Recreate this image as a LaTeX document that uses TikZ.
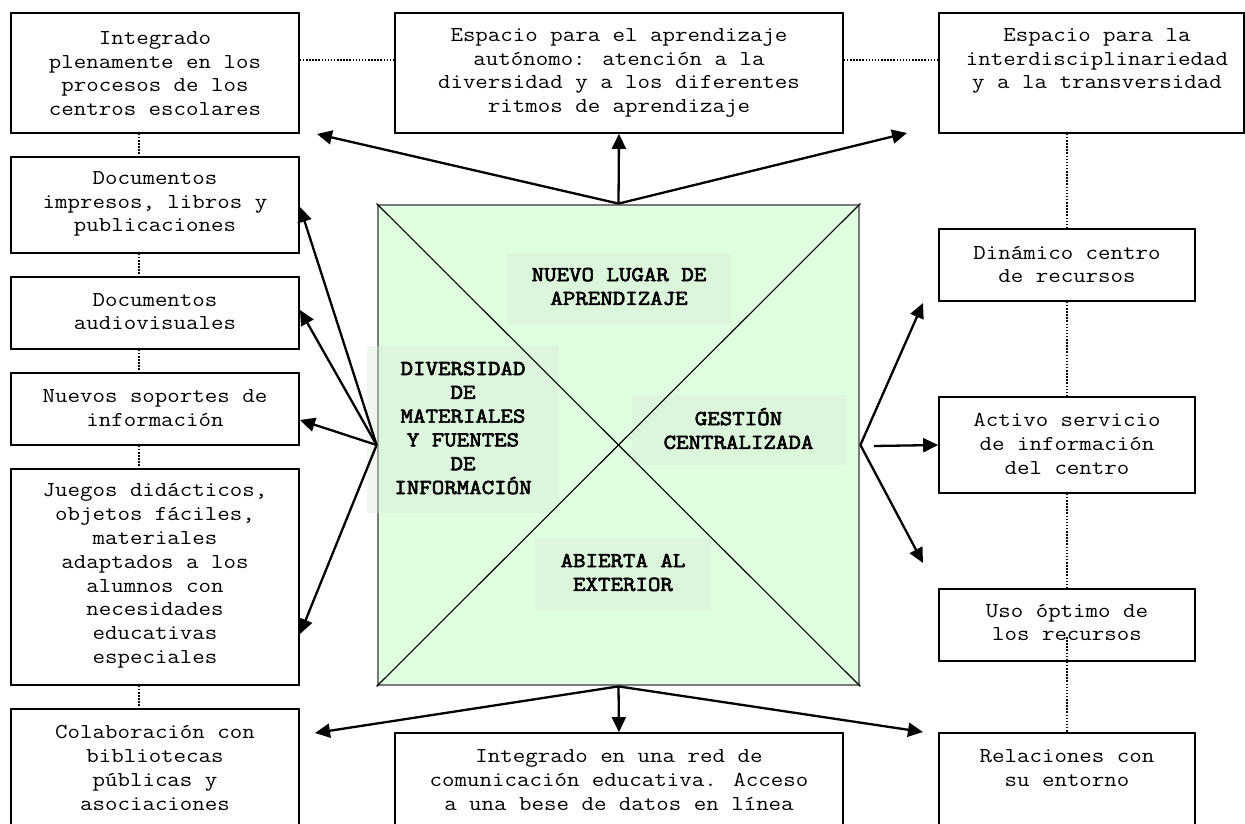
\documentclass[tikz,border=0pt]{standalone}
\usepackage{fontspec}
\newfontfamily\cour{Latin Modern Mono}[FakeStretch=1.143]
\newfontfamily\courb{Latin Modern Mono}[FakeStretch=1.143,FakeBold=3]
\usetikzlibrary{arrows.meta,calc}
\definecolor{sqfill}{RGB}{224,254,224}
\definecolor{lblfill}{RGB}{214,236,214}
\definecolor{sqedge}{RGB}{122,122,122}
\begin{document}
\begin{tikzpicture}[x=1pt,y=-1pt,
  box/.style={draw=black,line width=1.7pt,fill=white,inner sep=0pt,rectangle},
  txt/.style={align=center,font=\fontsize{21.2}{23.8}\selectfont\cour,inner sep=0pt},
  btxt/.style={align=center,font=\fontsize{21.2}{23.8}\selectfont\courb,inner sep=0pt},
  lbl/.style={fill=lblfill,fill opacity=0.4,inner sep=0pt,rectangle},
  arr/.style={line width=2.3pt,-{Triangle[length=15pt,width=14pt]}},
  dots/.style={line width=1.5pt,dash pattern=on 1.5pt off 1.6pt},
]
\path[use as bounding box,clip] (0,0) rectangle (1245,824);

% top row
\node[box,minimum width=288pt,minimum height=120pt] (tl) at (155,73) {};
\node[box,minimum width=448pt,minimum height=120pt] (tm) at (619,73) {};
\node[box,minimum width=305pt,minimum height=120pt] (tr) at (1091.5,73) {};
\node[txt] (tlt) at (155,73.5) {Integrado\\plenamente en los\\procesos de los\\centros escolares};
\node[txt] (tmt) at (619,73) {Espacio para el aprendizaje\\autónomo: atención a la\\diversidad y a los diferentes\\ritmos de aprendizaje};
\node[txt] (trt) at (1097,61) {Espacio para la\\interdisciplinariedad\\y a la transversidad};

% left column
\node[box,minimum width=288pt,minimum height=96pt] (l1) at (155,205) {};
\node[box,minimum width=288pt,minimum height=72pt] (l2) at (155,313) {};
\node[box,minimum width=288pt,minimum height=72pt] (l3) at (155,409) {};
\node[box,minimum width=288pt,minimum height=216pt] (l4) at (155,577) {};
\node[box,minimum width=288pt,minimum height=130pt] (l5) at (155,774) {};
\node[txt] (l1t) at (155,204) {Documentos\\impresos, libros y\\publicaciones};
\node[txt] (l2t) at (155,311.5) {Documentos\\audiovisuales};
\node[txt] (l3t) at (155,408) {Nuevos soportes de\\información};
\node[txt] (l4t) at (155,576) {Juegos didácticos,\\objetos fáciles,\\materiales\\adaptados a los\\alumnos con\\necesidades\\educativas\\especiales};
\node[txt] (l5t) at (155,768) {Colaboración con\\bibliotecas\\públicas y\\asociaciones};

% bottom middle
\node[box,minimum width=448pt,minimum height=110pt] (bm) at (619,788) {};
\node[txt] (bmt) at (619,780) {Integrado en una red de\\comunicación educativa. Acceso\\a una bese de datos en línea};

% right column
\node[box,minimum width=256pt,minimum height=72pt] (r1) at (1067,265) {};
\node[box,minimum width=256pt,minimum height=96pt] (r2) at (1067,445) {};
\node[box,minimum width=256pt,minimum height=72pt] (r3) at (1067,625) {};
\node[box,minimum width=256pt,minimum height=110pt] (r4) at (1067,788) {};
\node[txt] (r1t) at (1067,264.5) {Dinámico centro\\de recursos};
\node[txt] (r2t) at (1067,444) {Activo servicio\\de información\\del centro};
\node[txt] (r3t) at (1067,622.5) {Uso óptimo de\\los recursos};
\node[txt] (r4t) at (1067,768) {Relaciones con\\su entorno};

% dotted links
\draw[dots] ($(tl.north east)+(0,48)$) -- ($(tm.north west)+(0,48)$);
\draw[dots] ($(tm.north east)+(0,48)$) -- ($(tr.north west)+(0,48)$);
\draw[dots] ($(tl.south)+(-16,0)$) -- ($(l1.north)+(-16,0)$);
\draw[dots] ($(l1.south)+(-16,0)$) -- ($(l2.north)+(-16,0)$);
\draw[dots] ($(l2.south)+(-16,0)$) -- ($(l3.north)+(-16,0)$);
\draw[dots] ($(l3.south)+(-16,0)$) -- ($(l4.north)+(-16,0)$);
\draw[dots] ($(l4.south)+(-16,0)$) -- ($(l5.north)+(-16,0)$);
\draw[dots] (r1.north |- tr.south) -- (r1.north);
\draw[dots] (r1.south) -- (r2.north);
\draw[dots] (r2.south) -- (r3.north);
\draw[dots] ($(r3.center)+(0,12)$) -- (r4.north);

% central square
\node[fill=sqfill,draw=sqedge,line width=2.8pt,inner sep=0pt,minimum width=481pt,minimum height=480pt] (sq) at (618.5,445) {};
\node[lbl,minimum width=224pt,minimum height=72pt] (nuevo) at (619,289) {};
\node[lbl,minimum width=215pt,minimum height=70pt] (gestion) at (739.5,430) {};
\node[lbl,minimum width=176pt,minimum height=72pt] (abierta) at (623,574) {};
\node[lbl,minimum width=192pt,minimum height=167pt] (divers) at (463,429.5) {};
\draw[line width=1.1pt] (sq.north west) -- (sq.south east);
\draw[line width=1.1pt] (sq.north east) -- (sq.south west);
\node[btxt] (nuevot) at (619,286.5) {NUEVO LUGAR DE\\APRENDIZAJE};
\node[btxt] (gestiont) at (738.5,428.5) {GESTIÓN\\CENTRALIZADA};
\node[btxt] (abiertat) at (623,572.5) {ABIERTA AL\\EXTERIOR};
\node[btxt] (diverst) at (463,428) {DIVERSIDAD\\DE\\MATERIALES\\Y FUENTES\\DE\\INFORMACIÓN};

% arrow end points
\coordinate (tltip) at (317,134);
\coordinate (trtip) at (907,133);
\coordinate (l1tip) at (300,207);
\coordinate (l2tip) at (300,310);
\coordinate (l3tip) at (300,420);
\coordinate (l4tip) at (300,634);
\coordinate (r1tip) at (923,303);
\coordinate (r2start) at (874,446);
\coordinate (r3tip) at (923,563);
\coordinate (bltip) at (315,733);
\coordinate (brtip) at (923,732);

% arrows
\draw[arr] (sq.north) -- (tltip);
\draw[arr] (sq.north) -- (tm.south);
\draw[arr] (sq.north) -- (trtip);
\draw[arr] (sq.west) -- (l1tip);
\draw[arr] (sq.west) -- (l2tip);
\draw[arr] (sq.west) -- (l3tip);
\draw[arr] (sq.west) -- (l4tip);
\draw[arr] (sq.east) -- (r1tip);
\draw[arr] (r2start) -- (r2.west);
\draw[arr] (sq.east) -- (r3tip);
\draw[arr] (sq.south) -- (bltip);
\draw[arr] (sq.south) -- (bm.north);
\draw[arr] (sq.south) -- (brtip);
\end{tikzpicture}
\end{document}
